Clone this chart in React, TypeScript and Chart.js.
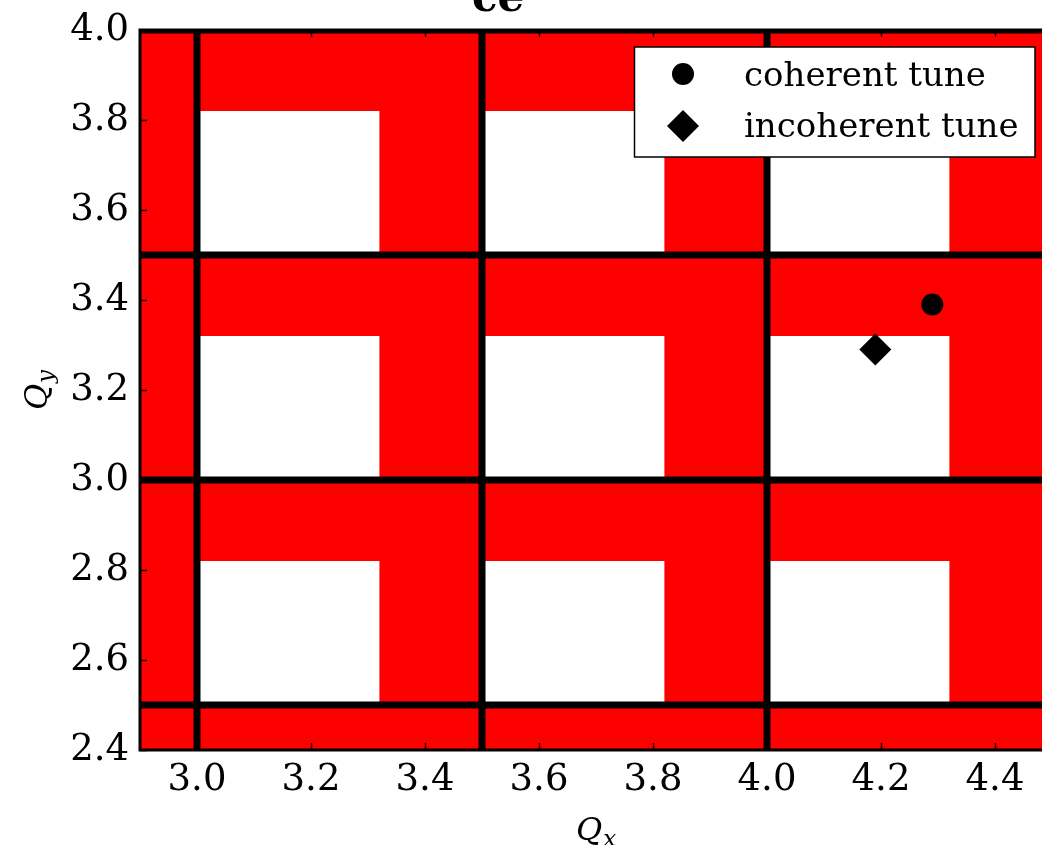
import React, { useEffect, useRef } from "react";
import { Chart, registerables } from "chart.js";

Chart.register(...registerables);

// ---- data ----
const xLimits = [2.9, 4.5];
const yLimits = [2.4, 4.0];
const xTickValues = [3.0, 3.2, 3.4, 3.6, 3.8, 4.0, 4.2, 4.4];
const xTickLabels = ["3.0", "3.2", "3.4", "3.6", "3.8", "4.0", "4.2", "4.4"];
const yTickValues = [2.4, 2.6, 2.8, 3.0, 3.2, 3.4, 3.6, 3.8, 4.0];
const yTickLabels = ["2.4", "2.6", "2.8", "3.0", "3.2", "3.4", "3.6", "3.8", "4.0"];
const resonanceQx = [3.0, 3.5, 4.0, 4.5];
const resonanceQy = [2.5, 3.0, 3.5, 4.0];
const stableStartQx = [3.0, 3.5, 4.0];
const stableStartQy = [2.5, 3.0, 3.5];
const stableWidth = 0.32;
const coherentTune = [{ x: 4.29, y: 3.39 }];
const incoherentTune = [{ x: 4.19, y: 3.29 }];
const seriesLabels = ["coherent tune", "incoherent tune"];
const titleText = "ce";

const W = 1100;
const H = 845;
const SERIF = "'DejaVu Serif', serif";

function drawMathLabel(ctx: CanvasRenderingContext2D, cx: number, cy: number, main: string, sub: string, rotate: boolean) {
  ctx.save();
  ctx.translate(cx, cy);
  if (rotate) ctx.rotate(-Math.PI / 2);
  const mainFont = `italic 32px ${SERIF}`;
  const subFont = `italic 23px ${SERIF}`;
  ctx.font = mainFont;
  const mw = ctx.measureText(main).width;
  ctx.font = subFont;
  const sw = ctx.measureText(sub).width;
  const total = mw + sw + 1;
  ctx.fillStyle = "#000";
  ctx.textBaseline = "alphabetic";
  ctx.textAlign = "left";
  ctx.font = mainFont;
  ctx.fillText(main, -total / 2, 10);
  ctx.font = subFont;
  ctx.fillText(sub, -total / 2 + mw + 1, 16);
  ctx.restore();
}

const stabilityPlugin = {
  id: "stability",
  beforeDatasetsDraw(chart: any) {
    const { ctx, chartArea, scales } = chart;
    const xs = scales.x;
    const ys = scales.y;
    ctx.save();
    ctx.beginPath();
    ctx.rect(chartArea.left, chartArea.top, chartArea.width, chartArea.height);
    ctx.clip();
    ctx.fillStyle = "#ff0000";
    ctx.fillRect(chartArea.left, chartArea.top, chartArea.width, chartArea.height);
    ctx.fillStyle = "#ffffff";
    for (const qx of stableStartQx) {
      for (const qy of stableStartQy) {
        const x0 = xs.getPixelForValue(qx);
        const x1 = xs.getPixelForValue(qx + stableWidth);
        const y0 = ys.getPixelForValue(qy);
        const y1 = ys.getPixelForValue(qy + stableWidth);
        ctx.fillRect(x0, y1, x1 - x0, y0 - y1);
      }
    }
    ctx.restore();
  },
  afterDatasetsDraw(chart: any) {
    const { ctx, chartArea, scales } = chart;
    const xs = scales.x;
    const ys = scales.y;
    ctx.save();
    // frame
    ctx.strokeStyle = "#000";
    ctx.lineWidth = 3;
    ctx.strokeRect(chartArea.left, chartArea.top, chartArea.width, chartArea.height);
    // inward ticks
    ctx.lineWidth = 1.5;
    ctx.beginPath();
    for (const v of xTickValues) {
      const px = Math.round(xs.getPixelForValue(v)) + 0.5;
      ctx.moveTo(px, chartArea.bottom);
      ctx.lineTo(px, chartArea.bottom - 7);
      ctx.moveTo(px, chartArea.top);
      ctx.lineTo(px, chartArea.top + 7);
    }
    for (const v of yTickValues) {
      const py = Math.round(ys.getPixelForValue(v)) + 0.5;
      ctx.moveTo(chartArea.left, py);
      ctx.lineTo(chartArea.left + 7, py);
      ctx.moveTo(chartArea.right, py);
      ctx.lineTo(chartArea.right - 7, py);
    }
    ctx.stroke();
    // tick labels
    ctx.fillStyle = "#000";
    ctx.font = `37px ${SERIF}`;
    ctx.textAlign = "center";
    ctx.textBaseline = "alphabetic";
    xTickValues.forEach((v, i) => {
      ctx.fillText(xTickLabels[i], xs.getPixelForValue(v), chartArea.bottom + 40);
    });
    ctx.textAlign = "right";
    ctx.textBaseline = "middle";
    yTickValues.forEach((v, i) => {
      ctx.fillText(yTickLabels[i], chartArea.left - 11, ys.getPixelForValue(v));
    });
    ctx.restore();
    // axis titles
    drawMathLabel(ctx, (chartArea.left + chartArea.right) / 2, chartArea.bottom + 80, "Q", "x", false);
    drawMathLabel(ctx, 37, (chartArea.top + chartArea.bottom) / 2, "Q", "y", true);
    // partially visible title (cut by the top edge)
    ctx.save();
    ctx.fillStyle = "#000";
    ctx.font = `bold 42px ${SERIF}`;
    ctx.textAlign = "left";
    ctx.textBaseline = "alphabetic";
    ctx.fillText(titleText, 472, 11);
    ctx.restore();
  },
  afterDraw(chart: any) {
    const { ctx } = chart;
    ctx.save();
    const bx = 634.5, by = 47, bw = 400.5, bh = 110;
    ctx.fillStyle = "#fff";
    ctx.fillRect(bx, by, bw, bh);
    ctx.strokeStyle = "#000";
    ctx.lineWidth = 1.5;
    ctx.strokeRect(bx, by, bw, bh);
    ctx.fillStyle = "#000";
    // circle marker
    ctx.beginPath();
    ctx.arc(683, 74, 11, 0, Math.PI * 2);
    ctx.fill();
    // diamond marker
    ctx.beginPath();
    ctx.moveTo(683, 110);
    ctx.lineTo(699, 126);
    ctx.lineTo(683, 142);
    ctx.lineTo(667, 126);
    ctx.closePath();
    ctx.fill();
    ctx.font = `34px ${SERIF}`;
    ctx.textAlign = "left";
    ctx.textBaseline = "alphabetic";
    ctx.fillText(seriesLabels[0], 744, 86);
    ctx.fillText(seriesLabels[1], 744, 136.5);
    ctx.restore();
  },
};

function lineDataset(points: { x: number; y: number }[]) {
  return {
    type: "line" as const,
    data: points,
    borderColor: "#000",
    borderWidth: 7,
    pointRadius: 0,
    showLine: true,
    fill: false,
    order: 2,
    label: "",
  };
}

export default function App() {
  const ref = useRef<HTMLCanvasElement | null>(null);
  useEffect(() => {
    if (!ref.current) return;
    const datasets: any[] = [];
    for (const qx of resonanceQx) {
      datasets.push(lineDataset([{ x: qx, y: yLimits[0] }, { x: qx, y: yLimits[1] }]));
    }
    for (const qy of resonanceQy) {
      datasets.push(lineDataset([{ x: xLimits[0], y: qy }, { x: xLimits[1], y: qy }]));
    }
    datasets.push({
      type: "scatter",
      label: seriesLabels[0],
      data: coherentTune,
      pointStyle: "circle",
      pointRadius: 11,
      backgroundColor: "#000",
      borderColor: "#000",
      borderWidth: 0,
      order: 0,
    });
    datasets.push({
      type: "scatter",
      label: seriesLabels[1],
      data: incoherentTune,
      pointStyle: "rectRot",
      pointRadius: 16,
      backgroundColor: "#000",
      borderColor: "#000",
      borderWidth: 0,
      order: 0,
    });
    const chart = new Chart(ref.current, {
      type: "scatter",
      data: { datasets },
      options: {
        animation: false,
        responsive: false,
        devicePixelRatio: 1,
        layout: { padding: { left: 140, right: W - 1052, top: 30, bottom: H - 750 } },
        plugins: { legend: { display: false }, tooltip: { enabled: false }, title: { display: false } },
        events: [],
        scales: {
          x: { type: "linear", min: xLimits[0], max: xLimits[1], display: false },
          y: { type: "linear", min: yLimits[0], max: yLimits[1], display: false },
        },
      },
      plugins: [stabilityPlugin],
    } as any);
    return () => chart.destroy();
  }, []);
  return (
    <div style={{ position: "fixed", left: 0, top: 0, width: 1042, height: 845, overflow: "hidden", background: "#fff" }}>
      <canvas ref={ref} width={W} height={H} style={{ width: W, height: H, display: "block" }} />
    </div>
  );
}
